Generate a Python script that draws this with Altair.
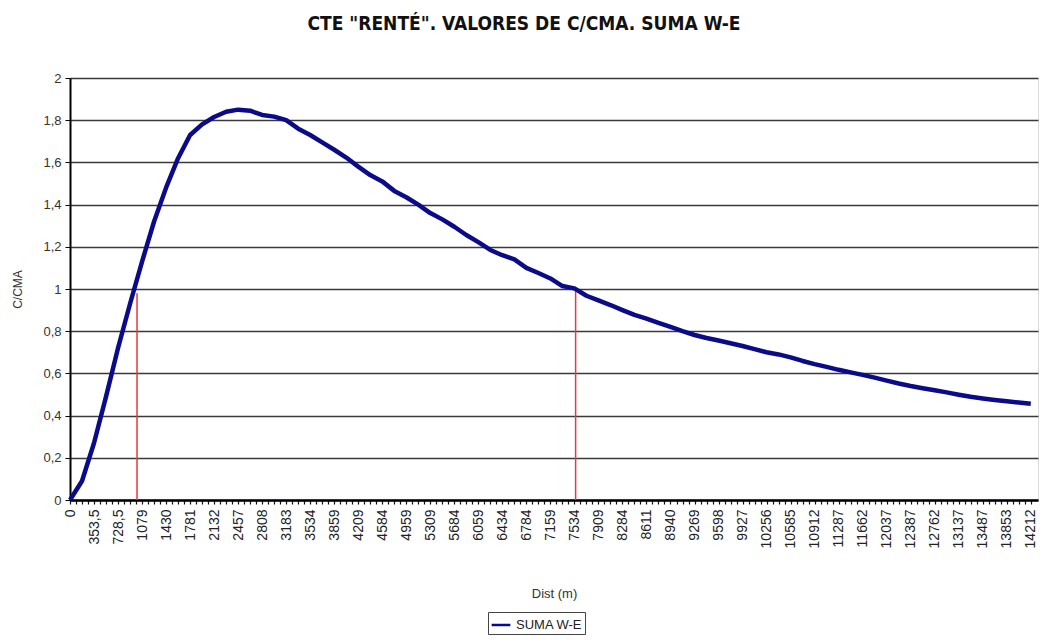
import altair as alt
import pandas as pd

dist_labels = ["0", "353,5", "728,5", "1079", "1430", "1781", "2132", "2457", "2808",
               "3183", "3534", "3859", "4209", "4584", "4959", "5309", "5684", "6059",
               "6434", "6784", "7159", "7534", "7909", "8284", "8611", "8940", "9269",
               "9598", "9927", "10256", "10585", "10912", "11287", "11662", "12037",
               "12387", "12762", "13137", "13487", "13853", "14212"]

# C/CMA read at every half category step
c_cma = [0.0, 0.09, 0.27, 0.49, 0.72, 0.93, 1.13, 1.32, 1.48, 1.62,
         1.73, 1.78, 1.815, 1.84, 1.85, 1.845, 1.825, 1.817, 1.80, 1.76,
         1.73, 1.695, 1.66, 1.623, 1.58, 1.54, 1.51, 1.465, 1.435, 1.40,
         1.36, 1.33, 1.295, 1.256, 1.222, 1.185, 1.16, 1.14, 1.10, 1.076,
         1.05, 1.014, 1.003, 0.968, 0.946, 0.924, 0.90, 0.877, 0.86, 0.84,
         0.82, 0.80, 0.782, 0.768, 0.756, 0.743, 0.73, 0.715, 0.70, 0.69,
         0.676, 0.659, 0.644, 0.631, 0.617, 0.605, 0.593, 0.58, 0.566, 0.552,
         0.54, 0.53, 0.52, 0.51, 0.499, 0.489, 0.481, 0.474, 0.468, 0.462, 0.456]

red_pos = [2.79, 21.05]
red_top = [0.98, 1.0]

y_ticks = [0, 0.2, 0.4, 0.6, 0.8, 1.0, 1.2, 1.4, 1.6, 1.8, 2.0]

pos = [j / 2 for j in range(len(c_cma))]
df = pd.DataFrame({"pos": pos, "v": c_cma, "serie": ["SUMA W-E"] * len(c_cma)})
rd = pd.DataFrame({"pos": red_pos, "top": red_top, "base": [0.0] * len(red_pos)})

tick_vals = [k / 4 for k in range(4 * (len(dist_labels) - 1) + 1)]
labels_js = "[" + ",".join("'" + l + "'" for l in dist_labels) + "]"
label_expr = f"datum.value % 1 == 0 ? {labels_js}[datum.value] : ''"

x_scale = alt.Scale(domain=[0, 40.3], nice=False, zero=False)
y_scale = alt.Scale(domain=[0, 2], nice=False)

lab_font = "Liberation Sans, Arial, sans-serif"

x_axis = alt.Axis(values=tick_vals, labelExpr=label_expr, labelAngle=270,
                  labelAlign="right", labelBaseline="middle", labelOverlap=False,
                  labelFontSize=14, labelFont=lab_font, labelColor="#222",
                  labelPadding=5, tickSize=4, tickWidth=1.2, tickColor="#111",
                  domainColor="#000", domainWidth=2.5, grid=False,
                  title="Dist (m)", titleFont=lab_font, titleFontSize=13,
                  titleFontWeight="normal", titleColor="#333", titlePadding=40)

y_axis = alt.Axis(values=y_ticks,
                  labelExpr="replace(format(datum.value, '.1~f'), '.', ',')",
                  labelFontSize=13, labelFont=lab_font, labelColor="#333",
                  labelPadding=4, tickSize=5, tickColor="#000", tickWidth=1,
                  domainColor="#000", domainWidth=2,
                  grid=True, gridColor="#3a3a3a", gridWidth=1.6,
                  title="C/CMA", titleFont=lab_font, titleFontSize=12,
                  titleFontWeight="normal", titleColor="#333", titlePadding=18)

line = alt.Chart(df).mark_line(strokeWidth=4.5, strokeJoin="round").encode(
    x=alt.X("pos:Q", scale=x_scale, axis=x_axis),
    y=alt.Y("v:Q", scale=y_scale, axis=y_axis),
    color=alt.Color("serie:N", scale=alt.Scale(range=["#0b0b8a"]),
                    legend=alt.Legend(orient="none", legendX=418, legendY=534,
                                      title=None, symbolType="stroke",
                                      symbolStrokeWidth=2.5, symbolSize=350,
                                      labelFontSize=13, labelFont=lab_font,
                                      labelColor="#222", strokeColor="#444",
                                      fillColor="white", padding=2,
                                      direction="horizontal")),
)

rules = alt.Chart(rd).mark_rule(color="#e8383a", strokeWidth=1.5).encode(
    x=alt.X("pos:Q", scale=x_scale, axis=x_axis),
    y=alt.Y("base:Q", scale=y_scale, axis=y_axis),
    y2="top:Q",
)

chart = alt.layer(rules, line).properties(
    width=968,
    height=422,
    autosize=alt.AutoSizeParams(type="none"),
    padding={"left": 62, "top": 70, "right": 4, "bottom": 135},
    title=alt.TitleParams(text='CTE "RENTÉ". VALORES DE  C/CMA. SUMA W-E',
                          font="Liberation Sans Narrow, DejaVu Sans Condensed, sans-serif",
                          fontSize=19, fontWeight="bold", color="#111",
                          anchor="middle", offset=38, dx=-30),
).configure_view(stroke="#999", strokeWidth=1).configure_axis(
    labelOverlap=False
).configure(background="white")

chart.save("out.html", embed_options={"renderer": "svg", "actions": False})
